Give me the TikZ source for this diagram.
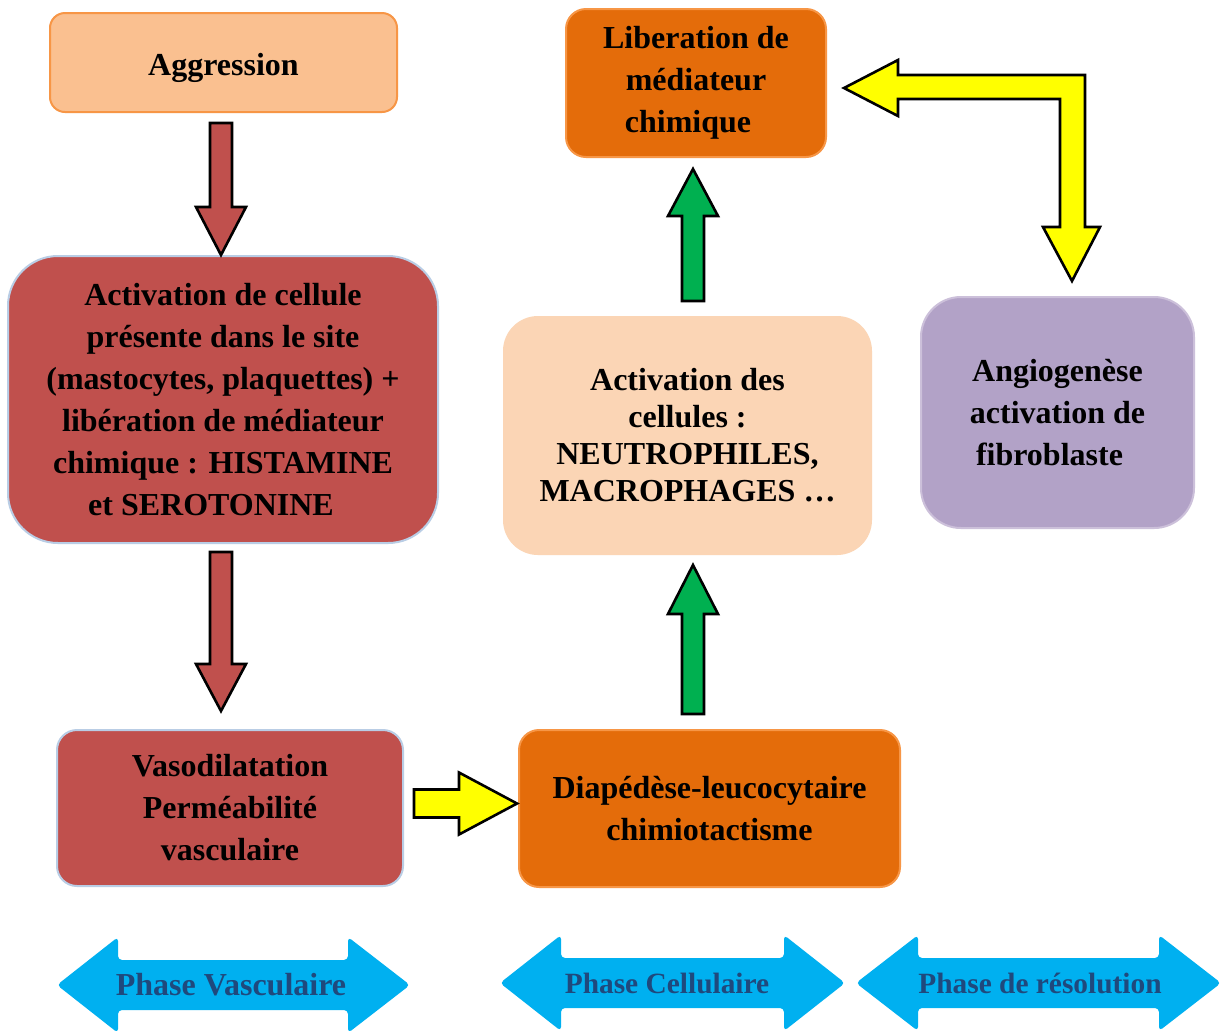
\documentclass[tikz,border=0pt]{standalone}
\usepackage{fontspec}
\setmainfont{Liberation Serif}
\usetikzlibrary{calc}
\definecolor{aggfill}{HTML}{FAC090}
\definecolor{aggline}{HTML}{F79646}
\definecolor{redfill}{HTML}{C0504D}
\definecolor{blueline}{HTML}{B9CDE5}
\definecolor{orfill}{HTML}{E46C0A}
\definecolor{orline}{HTML}{F79646}
\definecolor{peach}{HTML}{FBD5B5}
\definecolor{purfill}{HTML}{B2A2C7}
\definecolor{purline}{HTML}{CCC0DA}
\definecolor{yel}{HTML}{FFFF00}
\definecolor{grn}{HTML}{00B050}
\definecolor{phaseblue}{HTML}{00B0F0}
\definecolor{phasetext}{HTML}{1F497D}
\tikzset{
  box/.style={align=center, line width=1pt, inner sep=0pt,
    font=\fontsize{16}{21}\selectfont\bfseries, text=black},
  blockarr/.style={draw=black, line width=1.3pt, line join=miter},
  phasearr/.style={fill=phaseblue, rounded corners=2pt},
  phaselabel/.style={font=\fontsize{16}{21}\selectfont\bfseries, text=phasetext, inner sep=0pt},
  phasesmall/.style={font=\fontsize{14.7}{19}\selectfont\bfseries, text=phasetext, inner sep=0pt}
}
\begin{document}
\begin{tikzpicture}[x=0.5pt,y=-0.5pt]
\clip (0,0) rectangle (1222,1030);
\fill[white] (0,0) rectangle (1222,1030);

% boxes
\node[box, fill=aggfill, draw=aggline, minimum width=173.5pt, minimum height=49.5pt, rounded corners=7.5pt, text height=16pt, text depth=3.5pt] (agg) at (223.5,62.5) {Aggression};
\node[box, fill=redfill, draw=blueline, minimum width=215pt, minimum height=143.5pt, rounded corners=25pt] (act) at (223,399.5)
  {Activation de cellule\\présente dans le site\\(mastocytes, plaquettes) +\\libération de médiateur\\chimique : HISTAMINE\\et SEROTONINE\hspace*{12pt}};
\node[box, fill=redfill, draw=blueline, minimum width=173pt, minimum height=78pt, rounded corners=10pt] (vaso) at (230,808)
  {Vasodilatation\\Perméabilité\\vasculaire};
\node[box, fill=orfill, draw=orline, minimum width=190.5pt, minimum height=78.5pt, rounded corners=10pt] (diap) at (709.5,808.5)
  {Diapédèse-leucocytaire\\chimiotactisme};
\node[box, fill=peach, draw=peach, minimum width=183.5pt, minimum height=118.5pt, rounded corners=17pt, font=\fontsize{16}{18.5}\selectfont\bfseries] (act2) at (687.5,435.5)
  {Activation des\\cellules :\\NEUTROPHILES,\\MACROPHAGES …};
\node[box, fill=orfill, draw=orline, minimum width=130pt, minimum height=74pt, rounded corners=10pt] (lib) at (696,83)
  {Liberation de\\médiateur\\chimique\hspace*{8pt}};
\node[box, fill=purfill, draw=purline, minimum width=136.5pt, minimum height=115.5pt, rounded corners=20pt] (angio) at (1057.5,412.5)
  {Angiogenèse\\activation de\\fibroblaste\hspace*{8pt}};

% red arrow 1: agg -> act
\draw[blockarr, fill=redfill] ($(agg.south)+(-13.5,10)$) -- ($(act.north)+(-13,-48)$) -- ($(act.north)+(-27,-48)$) -- ($(act.north)+(-2,0)$)
  -- ($(act.north)+(23,-48)$) -- ($(act.north)+(9,-48)$) -- ($(agg.south)+(8.5,10)$) -- cycle;

% red arrow 2: act -> vaso
\coordinate (t2) at ($(act.south |- vaso.north)+(-2,-18)$);
\draw[blockarr, fill=redfill] ($(t2 |- act.south)+(-11,8)$) -- ($(t2)+(-11,-47)$) -- ($(t2)+(-25,-47)$) -- (t2)
  -- ($(t2)+(25,-47)$) -- ($(t2)+(11,-47)$) -- ($(t2 |- act.south)+(11,8)$) -- cycle;

% yellow arrow: vaso -> diap
\coordinate (t3) at ($(diap.west)+(-1,-5)$);
\draw[blockarr, fill=yel] ($(vaso.east |- t3)+(10,-14)$) -- ($(t3)+(-58,-14)$) -- ($(t3)+(-58,-31)$) -- (t3)
  -- ($(t3)+(-58,31)$) -- ($(t3)+(-58,14)$) -- ($(vaso.east |- t3)+(10,14)$) -- cycle;

% green arrow lower: diap -> act2
\coordinate (t4) at ($(act2.south)+(5.5,10)$);
\draw[blockarr, fill=grn] ($(t4 |- diap.north)+(-11,-15)$) -- ($(t4)+(-11,49)$) -- ($(t4)+(-25,49)$) -- (t4)
  -- ($(t4)+(25,49)$) -- ($(t4)+(11,49)$) -- ($(t4 |- diap.north)+(11,-15)$) -- cycle;

% green arrow upper: act2 -> lib
\coordinate (t5) at ($(lib.south)+(-3,11)$);
\draw[blockarr, fill=grn] ($(t5 |- act2.north)+(-11,-15)$) -- ($(t5)+(-11,47)$) -- ($(t5)+(-25,47)$) -- (t5)
  -- ($(t5)+(25,47)$) -- ($(t5)+(11,47)$) -- ($(t5 |- act2.north)+(11,-15)$) -- cycle;

% bent yellow double arrow: lib <-> angio
\coordinate (tL) at ($(lib.east)+(17,5)$);
\coordinate (tD) at ($(angio.north)+(14.5,-15)$);
\draw[blockarr, fill=yel] (tL) -- ($(tL)+(54,-28)$) -- ($(tL)+(54,-13)$) -- ($(tD |- tL)+(13,-13)$)
  -- ($(tD)+(13,-54)$) -- ($(tD)+(28,-54)$) -- (tD) -- ($(tD)+(-29,-54)$) -- ($(tD)+(-12,-54)$)
  -- ($(tD |- tL)+(-12,11)$) -- ($(tL)+(54,11)$) -- ($(tL)+(54,28)$) -- cycle;

% phase arrows
\fill[phasearr] (57,985) -- (118,937) -- (118,960) -- (348,960) -- (348,937) -- (410,985)
  -- (348,1033) -- (348,1010) -- (118,1010) -- (118,1033) -- cycle;
\node[phaselabel] (pv) at (231,985) {Phase Vasculaire};
\fill[phasearr] (500,983) -- (561,935) -- (561,958) -- (784,958) -- (784,935) -- (845,983)
  -- (784,1031) -- (784,1008) -- (561,1008) -- (561,1031) -- cycle;
\node[phasesmall] (pc) at (667,983) {Phase Cellulaire};
\fill[phasearr] (856,983) -- (918,935) -- (918,958) -- (1159,958) -- (1159,935) -- (1221,983)
  -- (1159,1031) -- (1159,1008) -- (918,1008) -- (918,1031) -- cycle;
\node[phasesmall] (pr) at (1040,983) {Phase de résolution};
\end{tikzpicture}
\end{document}
